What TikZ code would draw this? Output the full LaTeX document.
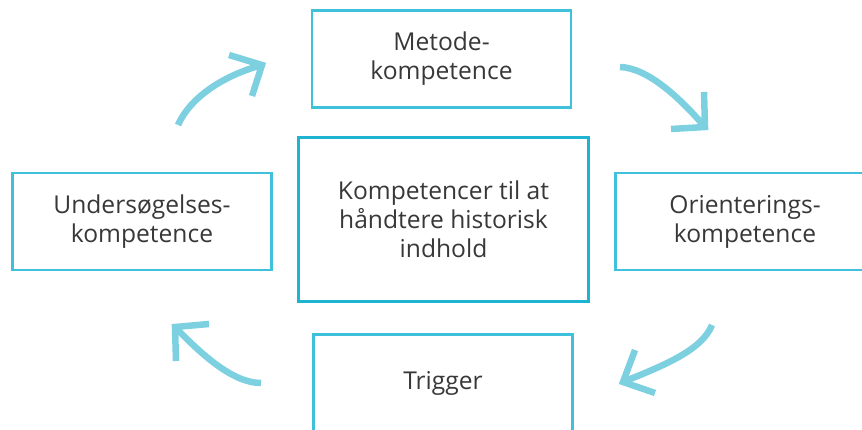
\documentclass[tikz,border=0pt]{standalone}
\usepackage{fontspec}
\setmainfont{Open Sans}
\definecolor{boxcol}{HTML}{3FC1DC}
\definecolor{corecol}{HTML}{1EB3D1}
\definecolor{arrcol}{HTML}{7DD0E0}
\definecolor{txtcol}{HTML}{383838}
\tikzset{
  compbox/.style={draw=boxcol, line width=2.2pt, fill=white, minimum width=259pt, minimum height=97pt,
    inner sep=0pt, align=center, text=txtcol, font=\fontsize{24.6}{29}\selectfont},
  corebox/.style={compbox, draw=corecol, line width=2.6pt, minimum width=290pt, minimum height=164pt},
  cyc/.style={draw=arrcol, line width=6.5pt, line cap=butt, line join=miter}
}
\begin{document}
\begin{tikzpicture}[x=1pt,y=-1pt]
\useasboundingbox (0,0) rectangle (862,430);
\clip (0,0) rectangle (862,430);
\node[compbox] (meth) at (441.5,59) {Metode-\\kompetence};
\node[corebox] (core) at (443.5,219.5) {Kompetencer til at\\håndtere historisk\\indhold};
\node[compbox] (left) at (142,221.5) {Undersøgelses-\\kompetence};
\node[compbox] (right) at (745,221.5) {Orienterings-\\kompetence};
\node[compbox] (trig) at (443,383) {Trigger};
% arrow 1
\coordinate (a1s) at (178,125);
\coordinate (a1t) at (262,65);
\coordinate (a1u) at (229,55);
\coordinate (a1l) at (252,96);
\draw[cyc] (a1s) .. controls (190,98) and (222,76) .. (a1t);
\draw[cyc] (a1u) -- (a1t) -- (a1l);
% arrow 2
\coordinate (a2s) at (620,67);
\coordinate (a2t) at (705,127);
\coordinate (a2u) at (704,92);
\coordinate (a2l) at (671,129);
\draw[cyc] (a2s) .. controls (648,68) and (680,98) .. (a2t);
\draw[cyc] (a2u) -- (a2t) -- (a2l);
% arrow 3
\coordinate (a3s) at (712,325);
\coordinate (a3t) at (623,382);
\coordinate (a3u) at (635,350);
\coordinate (a3l) at (655,393);
\draw[cyc] (a3s) .. controls (702,350) and (665,365) .. (a3t);
\draw[cyc] (a3u) -- (a3t) -- (a3l);
% arrow 4
\coordinate (a4s) at (261,383);
\coordinate (a4t) at (175,327);
\coordinate (a4u) at (176,361);
\coordinate (a4l) at (209,324);
\draw[cyc] (a4s) .. controls (233,383) and (202,355) .. (a4t);
\draw[cyc] (a4u) -- (a4t) -- (a4l);
\end{tikzpicture}
\end{document}
